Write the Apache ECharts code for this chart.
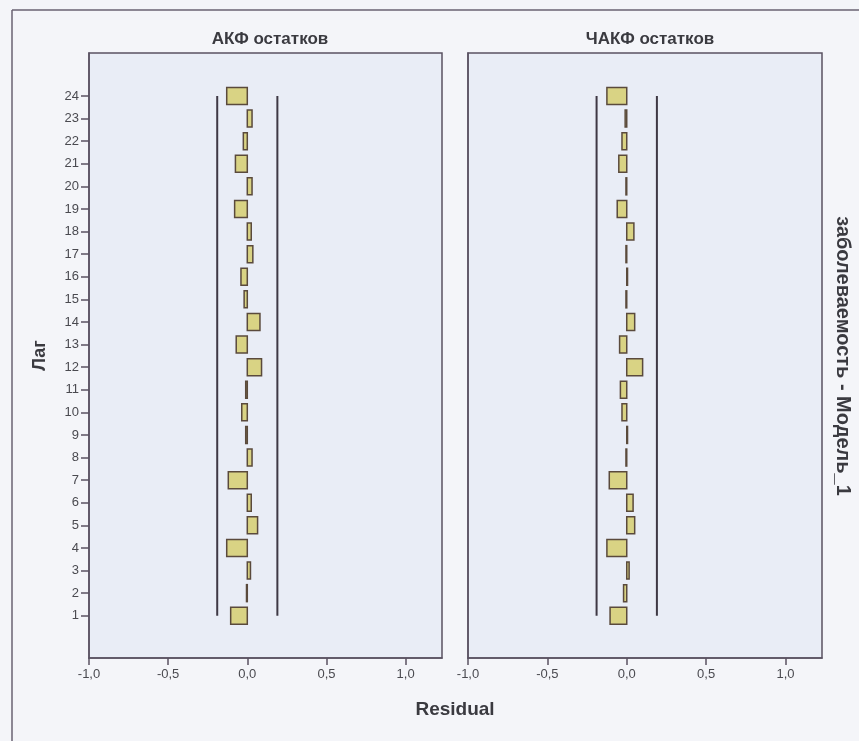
<!DOCTYPE html>
<html>
<head>
<meta charset="utf-8">
<script src="https://cdn.jsdelivr.net/npm/echarts@6/dist/echarts.min.js"></script>
<style>
html,body{margin:0;padding:0;background:#f4f5f9;}
#c{width:859px;height:741px;}
</style>
</head>
<body>
<div id="c"></div>
<script>
// ---- data ----
const lags = [1,2,3,4,5,6,7,8,9,10,11,12,13,14,15,16,17,18,19,20,21,22,23,24];
const acf  = [-0.105,-0.005,0.02,-0.13,0.065,0.025,-0.12,0.03,-0.01,-0.035,-0.01,0.09,
              -0.07,0.08,-0.02,-0.04,0.035,0.025,-0.08,0.03,-0.075,-0.025,0.03,-0.13];
const pacf = [-0.105,-0.02,0.015,-0.125,0.05,0.04,-0.11,-0.005,0.005,-0.03,-0.04,0.1,
              -0.045,0.05,-0.005,0.005,-0.005,0.045,-0.06,-0.005,-0.05,-0.03,-0.01,-0.125];
const acfLimit = [-0.19, 0.19];
const pacfLimit = [-0.19, 0.19];
const xTicks = [-1, -0.5, 0, 0.5, 1];
const panelTitles = ['АКФ остатков', 'ЧАКФ остатков'];

const chart = echarts.init(document.getElementById('c'), null, {renderer:'canvas'});
const FONT = "'Liberation Sans Narrow','Liberation Sans',Arial,sans-serif";
const FONT2 = "'Liberation Sans',Arial,sans-serif";
const axisCol = '#5a5262';
const fmt = v => v.toFixed(1).replace('.', ',');

function barSeries(vals, idx){
  return {
    type:'custom', xAxisIndex:idx, yAxisIndex:idx,
    data: lags.map((l,i)=>[vals[i], l]),
    renderItem:(params, api)=>{
      const v = api.value(0), lag = api.value(1);
      const p0 = api.coord([0, lag]);
      const p1 = api.coord([v, lag]);
      const h = 17;
      return {type:'rect',
        shape:{x:Math.min(p0[0],p1[0]), y:p0[1]-h/2, width:Math.abs(p1[0]-p0[0]), height:h},
        style:{fill:'#d9d384', stroke:'#5a4a3c', lineWidth:1.5}};
    },
    z:3
  };
}
function limitSeries(lim, idx){
  return lim.map(v=>({
    type:'line', xAxisIndex:idx, yAxisIndex:idx, symbol:'none', silent:true,
    data:[[v, lags[0]],[v, lags[lags.length-1]]],
    lineStyle:{color:'#3e3844', width:2}, z:2
  }));
}
function xAxis(idx){
  return {gridIndex:idx, type:'value', min:-1, max:1.23,
    axisLine:{show:true, onZero:false, lineStyle:{color:axisCol, width:1.5}},
    axisTick:{show:true, length:7, customValues:xTicks, lineStyle:{color:axisCol, width:1.5}},
    axisLabel:{customValues:xTicks, formatter:fmt, color:'#4a4a50', fontSize:13, fontFamily:FONT2, margin:10},
    splitLine:{show:false}};
}
function yAxis(idx){
  return {gridIndex:idx, type:'value', min:-0.87, max:25.9,
    name: idx===0 ? 'Лаг' : '', nameLocation:'middle', nameRotate:90, nameGap:40,
    nameTextStyle:{fontSize:18, fontWeight:'bold', color:'#3a3a40', fontFamily:FONT},
    axisLine:{show:true, onZero:false, lineStyle:{color:axisCol, width:1.5}},
    axisTick:{show: idx===0, length:8, customValues:lags, lineStyle:{color:axisCol, width:1.5}},
    axisLabel:{show: idx===0, customValues:lags, color:'#4a4a50', fontSize:13, fontFamily:FONT2, margin:10},
    splitLine:{show:false}};
}

const option = {
  animation:false,
  backgroundColor:'#f4f5f9',
  title: panelTitles.map((t,i)=>({
    text:t, left: i===0 ? 265 : 645, top:26, textAlign:'center',
    textStyle:{fontSize:17, fontWeight:'bold', color:'#3a3a40', fontFamily:FONT}
  })),
  grid:[
    {left:89, top:53, width:353, height:605, show:true, backgroundColor:'#e9edf6', borderColor:axisCol, borderWidth:1.5},
    {left:468, top:53, width:354, height:605, show:true, backgroundColor:'#e9edf6', borderColor:axisCol, borderWidth:1.5}
  ],
  xAxis:[xAxis(0), xAxis(1)],
  yAxis:[yAxis(0), yAxis(1)],
  series:[barSeries(acf,0), barSeries(pacf,1), ...limitSeries(acfLimit,0), ...limitSeries(pacfLimit,1)],
  graphic:[
    {type:'line', shape:{x1:12, y1:10, x2:859, y2:10}, style:{stroke:'#6a6272', lineWidth:1.5}},
    {type:'line', shape:{x1:12, y1:10, x2:12, y2:741}, style:{stroke:'#6a6272', lineWidth:1.5}},
    {type:'text', x:455, y:710, style:{text:'Residual', fill:'#3a3a40', font:"bold 19px "+FONT, textAlign:'center', textVerticalAlign:'middle'}},
    {type:'text', x:843, y:356, rotation:-Math.PI/2,
      style:{text:'заболеваемость - Модель_1', fill:'#3a3a40', font:"bold 20px "+FONT, textAlign:'center', textVerticalAlign:'middle'}}
  ]
};
chart.setOption(option);
</script>
</body>
</html>
